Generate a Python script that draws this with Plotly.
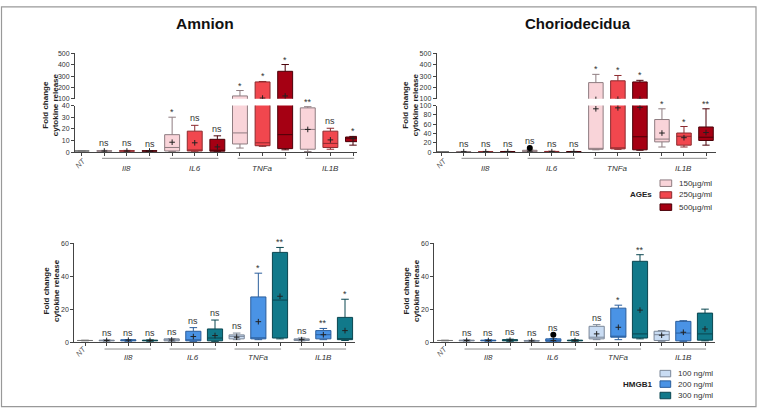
import plotly.graph_objects as go

W, H = 758, 411

# ---------------- data ----------------
positions = list(range(13))
group_names = ["Il8", "IL6", "TNFa", "IL1B"]
group_members = [[1, 2, 3], [4, 5, 6], [7, 8, 9], [10, 11, 12]]
series_of_pos = [0, 1, 2, 3, 1, 2, 3, 1, 2, 3, 1, 2, 3]

ages_labels = ["150µg/ml", "250µg/ml", "500µg/ml"]
hmgb1_labels = ["100 ng/ml", "200 ng/ml", "300 ng/ml"]

# Amnion - AGEs
amn_ages_lo = [0.8, 0.5, 0.5, 0.5, 0.5, 0.3, 0.3, 3.5, 5, 2, 0.5, 2.5, 6]
amn_ages_q1 = [1, 0.8, 0.8, 0.8, 1, 1, 0.8, 7, 5.5, 3, 2.5, 4, 9]
amn_ages_med = [1, 1, 1, 1, 4, 1.5, 1, 16.5, 8, 15, 19.5, 7.5, 12]
amn_ages_q3 = [1, 1.2, 1.2, 1.2, 15, 18, 11, 124, 248, 342, 38, 18, 13]
amn_ages_hi = [1.2, 1.5, 1.5, 1.3, 30, 23, 14, 172, 252, 402, 39, 20.5, 13.5]
amn_ages_mean = [1, 1, 1, 1, 8.5, 8, 4.5, 55, 105, 124, 19.5, 10.5, 11.5]
amn_ages_sig = ["", "ns", "ns", "ns", "*", "ns", "ns", "*", "*", "*", "**", "ns", "*"]
amn_ages_out = [None] * 13

# Choriodecidua - AGEs
cho_ages_lo = [0.8, 0.5, 0.5, 0.5, 0.5, 0.5, 0.5, 5, 6, 4, 11, 11, 15]
cho_ages_q1 = [1, 0.8, 0.8, 0.8, 1, 0.8, 0.8, 6, 7, 5, 22, 15, 25]
cho_ages_med = [1, 1, 1, 1, 2, 1, 1, 7, 8, 33, 28, 34, 32]
cho_ages_q3 = [1, 1.2, 1.2, 1.2, 4, 1.5, 1.2, 242, 258, 248, 70, 41, 54]
cho_ages_hi = [1.2, 1.5, 1.5, 1.5, 4.5, 2, 1.5, 315, 305, 262, 93, 55, 93]
cho_ages_mean = [1, 1, 1, 1, 2, 1, 1, 93, 95, 96, 41, 31, 42]
cho_ages_sig = ["", "ns", "ns", "ns", "ns", "ns", "ns", "*", "*", "*", "*", "*", "**"]
cho_ages_out = [None, None, None, None, 9, None, None, None, None, None, None, None, None]

# Amnion - HMGB1
amn_hmgb_lo = [0.8, 0.5, 0.5, 0.5, 0.5, 0.3, 0.3, 1.5, 1.5, 2, 0.8, 1.5, 1]
amn_hmgb_q1 = [1, 0.8, 0.8, 0.8, 0.8, 0.8, 0.8, 2, 2, 2.5, 1, 2, 1.5]
amn_hmgb_med = [1, 1, 1.2, 1, 1.2, 1, 2.5, 3.5, 2.5, 25.5, 1.5, 4.5, 2]
amn_hmgb_q3 = [1, 1.2, 1.4, 1.2, 2, 6.6, 8, 4.4, 27.4, 54.4, 2, 7, 15]
amn_hmgb_hi = [1.2, 1.5, 1.6, 1.4, 2.2, 8.8, 13.4, 5.5, 41.8, 57.4, 2.5, 8.3, 26]
amn_hmgb_mean = [1, 1, 1.2, 1, 1.3, 3.4, 4, 3, 12.4, 27.8, 1.5, 4.5, 7]
amn_hmgb_sig = ["", "ns", "ns", "ns", "ns", "ns", "ns", "ns", "*", "**", "ns", "**", "*"]
amn_hmgb_out = [None] * 13

# Choriodecidua - HMGB1
cho_hmgb_lo = [0.8, 0.5, 0.5, 0.5, 0.5, 0.3, 0.5, 1.5, 1.5, 2, 0.5, 0.5, 0.8]
cho_hmgb_q1 = [1, 0.8, 0.8, 0.8, 0.6, 0.5, 0.8, 2, 3, 2.5, 1, 0.8, 1.2]
cho_hmgb_med = [1, 1, 1, 1.2, 0.8, 1, 1, 3, 3.5, 5, 4.5, 5.5, 5]
cho_hmgb_q3 = [1, 1.2, 1.2, 1.5, 1, 2, 1.2, 9.6, 20.6, 49, 6.6, 12.6, 17.6]
cho_hmgb_hi = [1.2, 1.5, 1.5, 1.8, 1.2, 2.2, 1.5, 10.6, 22.4, 53, 7, 13, 20]
cho_hmgb_mean = [1, 1, 1, 1.2, 0.8, 1, 1, 5, 9, 19.4, 4.2, 6, 8]
cho_hmgb_sig = ["", "ns", "ns", "ns", "ns", "ns", "ns", "ns", "*", "**", "", "", ""]
cho_hmgb_out = [None, None, None, None, None, 4.5, None, None, None, None, None, None, None]

# ---------------- styles ----------------
ages_fill = ["#FFFFFF", "#F9D4D9", "#F1474E", "#A50013"]
ages_line = ["#777777", "#8E7C80", "#8C2A2E", "#4A0008"]
hmgb_fill = ["#FFFFFF", "#C9DCF3", "#4A93E5", "#11798A"]
hmgb_line = ["#777777", "#7B8798", "#2B5E9C", "#0A4650"]
AX = "#444444"
FONT = "Liberation Sans, Arial, sans-serif"


def px_x(px):
    return px / W


def px_y(py):
    return 1 - py / H


fig = go.Figure()
annotations = []
shapes = []


def xrange_from(left, right, c0, c12):
    unit = (c12 - c0) / 12.0
    return [-(c0 - left) / unit, 12 + (right - c12) / unit]


def add_panel(xa, ya_lo, ya_hi, lo_max, lo, q1, med, q3, hi, mean, sig, outl,
              fills, lines, bw):
    axes = [(ya_lo, 0, lo_max)]
    if ya_hi:
        axes.append((ya_hi, 100, 500))
    for ya, rmin, rmax in axes:
        for i in positions:
            if hi[i] < rmin:
                continue
            s = series_of_pos[i]
            fig.add_trace(go.Box(
                x=[i], q1=[q1[i]], median=[med[i]], q3=[q3[i]],
                lowerfence=[lo[i]], upperfence=[hi[i]],
                xaxis=xa, yaxis=ya, width=bw, whiskerwidth=0.5,
                fillcolor=fills[s], line=dict(color=lines[s], width=1),
                boxpoints=False, showlegend=False, hoverinfo="skip"))
        fig.add_trace(go.Scatter(
            x=[p for p in positions if p > 0], y=[mean[p] for p in positions if p > 0],
            xaxis=xa, yaxis=ya, mode="markers",
            marker=dict(symbol="cross-thin-open", size=4, color="#222",
                        line=dict(width=1, color="#222")),
            showlegend=False, hoverinfo="skip"))
        ox = [p for p in positions if outl[p] is not None]
        if ox:
            fig.add_trace(go.Scatter(
                x=ox, y=[outl[p] for p in ox], xaxis=xa, yaxis=ya, mode="markers",
                marker=dict(symbol="circle", size=6, color="#000"),
                showlegend=False, hoverinfo="skip"))
    for i in positions:
        if not sig[i]:
            continue
        top = hi[i]
        if outl[i] is not None:
            top = max(top, outl[i])
        yref = ya_lo
        if ya_hi and top > lo_max:
            yref = ya_hi
        annotations.append(dict(
            x=i, y=top, xref=xa, yref=yref, text=sig[i], showarrow=False,
            xanchor="center", yanchor="bottom",
            yshift=(-2 if sig[i].startswith("*") else 0),
            font=dict(size=9, color="#333", family=FONT)))


def add_groups(xa, line_py, label_py, nt_px, nt_py):
    for name, mem in zip(group_names, group_members):
        shapes.append(dict(type="line", xref=xa, yref="paper",
                           x0=mem[0] - 0.1, x1=mem[-1] + 0.05,
                           y0=px_y(line_py), y1=px_y(line_py),
                           line=dict(color="#8a8a8a", width=1)))
        annotations.append(dict(x=mem[1], y=px_y(label_py), xref=xa, yref="paper",
                                text="<i>" + name + "</i>", showarrow=False,
                                xanchor="center", yanchor="middle",
                                font=dict(size=8, color="#333", family=FONT)))
    annotations.append(dict(x=px_x(nt_px), y=px_y(nt_py), xref="paper", yref="paper",
                            text="<i>NT</i>", textangle=-45, showarrow=False,
                            xanchor="center", yanchor="middle",
                            font=dict(size=7.5, color="#555", family=FONT)))


add_panel("x", "y", "y2", 40, amn_ages_lo, amn_ages_q1, amn_ages_med, amn_ages_q3,
          amn_ages_hi, amn_ages_mean, amn_ages_sig, amn_ages_out, ages_fill, ages_line, 0.66)
add_panel("x2", "y3", "y4", 100, cho_ages_lo, cho_ages_q1, cho_ages_med, cho_ages_q3,
          cho_ages_hi, cho_ages_mean, cho_ages_sig, cho_ages_out, ages_fill, ages_line, 0.66)
add_panel("x3", "y5", None, 60, amn_hmgb_lo, amn_hmgb_q1, amn_hmgb_med, amn_hmgb_q3,
          amn_hmgb_hi, amn_hmgb_mean, amn_hmgb_sig, amn_hmgb_out, hmgb_fill, hmgb_line, 0.7)
add_panel("x4", "y6", None, 60, cho_hmgb_lo, cho_hmgb_q1, cho_hmgb_med, cho_hmgb_q3,
          cho_hmgb_hi, cho_hmgb_mean, cho_hmgb_sig, cho_hmgb_out, hmgb_fill, hmgb_line, 0.7)

add_groups("x", 157, 167, 80, 162)
add_groups("x2", 157, 167, 441, 162)
add_groups("x3", 351, 359.5, 81, 354)
add_groups("x4", 351, 359.5, 442, 354)


def xcfg(left, right, c0, c12, anchor):
    return dict(domain=[px_x(left), px_x(right)], range=xrange_from(left, right, c0, c12),
                anchor=anchor, showline=True, linecolor=AX, linewidth=1,
                ticks="outside", ticklen=3, tickwidth=1, tickcolor=AX,
                tickvals=positions, showticklabels=False, showgrid=False, zeroline=False)


def ycfg(bottom_py, top_py, rng, tickvals, anchor):
    return dict(domain=[px_y(bottom_py), px_y(top_py)], range=rng, anchor=anchor,
                showline=True, linecolor=AX, linewidth=1, ticks="outside", ticklen=3,
                tickwidth=1, tickcolor=AX, tickvals=tickvals,
                tickfont=dict(size=7, color="#333", family=FONT),
                showgrid=False, zeroline=False)


fig.update_layout(
    width=W, height=H, margin=dict(l=0, r=0, t=0, b=0),
    paper_bgcolor="white", plot_bgcolor="rgba(0,0,0,0)", boxmode="overlay",
    xaxis=xcfg(75, 357, 81.7, 353, "y"),
    yaxis=ycfg(150.7, 103.3, [0, 40], [0, 10, 20, 30, 40], "x"),
    yaxis2=ycfg(96.3, 50.3, [100, 500], [100, 200, 300, 400, 500], "x"),
    xaxis2=xcfg(436.7, 716, 441.7, 706, "y3"),
    yaxis3=ycfg(150.7, 103.3, [0, 100], [0, 20, 40, 60, 80, 100], "x2"),
    yaxis4=ycfg(96.3, 50.3, [100, 500], [100, 200, 300, 400, 500], "x2"),
    xaxis3=xcfg(74.3, 355, 85, 345, "y5"),
    yaxis5=ycfg(344, 243.3, [0, 60], [0, 20, 40, 60], "x3"),
    xaxis4=xcfg(434.3, 715, 445, 705, "y6"),
    yaxis6=ycfg(344, 243.3, [0, 60], [0, 20, 40, 60], "x4"),
)

# titles
annotations.append(dict(x=px_x(205), y=px_y(20), xref="paper", yref="paper", text="<b>Amnion</b>",
                        showarrow=False, xanchor="center", yanchor="middle",
                        font=dict(size=15.5, color="#111", family=FONT)))
annotations.append(dict(x=px_x(577.5), y=px_y(20), xref="paper", yref="paper",
                        text="<b>Choriodecidua</b>", showarrow=False,
                        xanchor="center", yanchor="middle",
                        font=dict(size=15, color="#111", family=FONT)))

# y-axis titles
for (xp, yp) in [(50, 103), (410, 103), (51, 292), (411, 292)]:
    annotations.append(dict(x=px_x(xp), y=px_y(yp), xref="paper", yref="paper",
                            text="<b>Fold change<br>cytokine release</b>", textangle=-90,
                            showarrow=False, xanchor="center", yanchor="middle",
                            font=dict(size=8, color="#222", family=FONT)))


# legends
def add_legend(title, labels, fills, lines, title_px, title_py, box_x0, box_x1, rows_py, text_px):
    annotations.append(dict(x=px_x(title_px), y=px_y(title_py), xref="paper", yref="paper",
                            text="<b>" + title + "</b>", showarrow=False,
                            xanchor="right", yanchor="middle",
                            font=dict(size=8, color="#222", family=FONT)))
    for k, (lab, ry) in enumerate(zip(labels, rows_py)):
        shapes.append(dict(type="rect", xref="paper", yref="paper",
                           x0=px_x(box_x0), x1=px_x(box_x1),
                           y0=px_y(ry + 3.3), y1=px_y(ry - 3.3),
                           fillcolor=fills[k + 1], line=dict(color=lines[k + 1], width=1)))
        annotations.append(dict(x=px_x(text_px), y=px_y(ry), xref="paper", yref="paper",
                                text=lab, showarrow=False, xanchor="left", yanchor="middle",
                                font=dict(size=8, color="#333", family=FONT)))


add_legend("AGEs", ages_labels, ages_fill, ages_line, 653.5, 194.3, 660, 671.7,
           [182.3, 194.3, 206.7], 677)
add_legend("HMGB1", hmgb1_labels, hmgb_fill, hmgb_line, 653.5, 386.7, 660, 670.7,
           [376, 386.7, 398.3], 676)

# outer frame
shapes.append(dict(type="rect", xref="paper", yref="paper",
                   x0=px_x(1.5), x1=px_x(756), y0=px_y(409.5), y1=px_y(3),
                   line=dict(color="#999", width=1.2), fillcolor="rgba(0,0,0,0)"))

fig.update_layout(annotations=annotations, shapes=shapes)
fig.write_html("out.html")
